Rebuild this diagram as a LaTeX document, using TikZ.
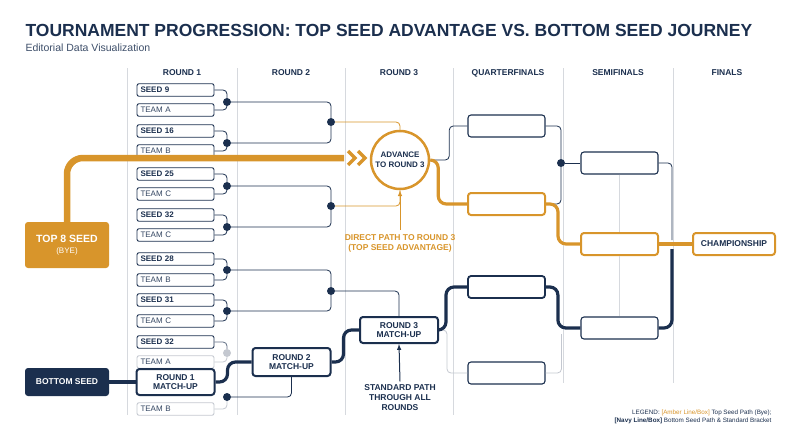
\documentclass[tikz,border=0pt]{standalone}
\usepackage{fontspec}
\setmainfont{Liberation Sans}
\usetikzlibrary{positioning}
\definecolor{navy}{HTML}{1B2F4E}
\definecolor{amber}{HTML}{D8952B}
\definecolor{rule}{HTML}{D6D9DE}
\definecolor{fade}{HTML}{C4C8D0}
\tikzset{
  team/.style={draw=navy,line width=.9pt,rounded corners=2pt,minimum width=77pt,
    minimum height=12.5pt,inner sep=0pt,font=\fontsize{8}{9}\selectfont,text=navy!90,
    text width=70pt,align=left},
  seed/.style={team,font=\fontsize{8}{9}\selectfont\bfseries,text=navy},
  faded/.style={team,draw=fade},
  blank/.style={draw=navy,line width=1.1pt,rounded corners=3pt,minimum width=77pt,minimum height=22pt},
  gold/.style={blank,draw=amber,line width=2pt},
  match/.style={draw=navy,line width=2pt,rounded corners=3pt,fill=white,minimum width=78pt,
    inner sep=1pt,font=\fontsize{8.5}{9.5}\selectfont\bfseries,text=navy,align=center},
  dot/.style={circle,fill=navy,inner sep=0pt,minimum size=8pt},
  link/.style={draw=navy,line width=.8pt,rounded corners=4pt},
  thicknavy/.style={draw=navy,line width=3.2pt,rounded corners=8pt},
  thickgold/.style={draw=amber,line width=3.2pt,rounded corners=8pt},
  head/.style={font=\fontsize{8.5}{10}\selectfont\bfseries,text=navy}
}
\begin{document}
\begin{tikzpicture}[x=1pt,y=-1pt]
\useasboundingbox (0,0) rectangle (800,447);
% title
\node[anchor=west,text=navy,font=\fontsize{17.5}{20}\selectfont\bfseries] (title) at (22,30)
  {TOURNAMENT PROGRESSION: TOP SEED ADVANTAGE VS. BOTTOM SEED JOURNEY};
\node[anchor=west,text=navy!85,font=\fontsize{10.5}{12}\selectfont] (sub) at (22,48) {Editorial Data Visualization};
% columns
\foreach \x/\y in {127/415,237/415,345/415,453/415,563/383,673/383}
  \draw[rule,line width=.8pt] (\x,68) -- (\x,\y);
\foreach \x/\t [count=\i] in {182/ROUND 1,291/ROUND 2,399/ROUND 3,508/QUARTERFINALS,618/SEMIFINALS,727/FINALS}
  \node[head] (h\i) at (\x,73) {\t};
% round 1
\foreach \y/\t/\s [count=\i] in {90/SEED 9/seed,110/TEAM A/team,131/SEED 16/seed,151/TEAM B/team,
  174/SEED 25/seed,194/TEAM C/team,215/SEED 32/seed,235/TEAM C/team,259/SEED 28/seed,
  280/TEAM B/team,300/SEED 31/seed,321/TEAM C/team,342/SEED 32/seed,362/TEAM A/faded,409/TEAM B/faded}
  \node[\s] (r\i) at (175.5,\y) {\t};
\foreach \y [count=\i] in {102,143,186,227,270,311}
  \node[dot] (d\i) at (227,\y) {};
\node[dot,fill=fade] (d7) at (227,353) {};
\node[dot] (d8) at (227,397) {};
\foreach \i in {1,...,6}{
  \pgfmathtruncatemacro\a{2*\i-1}\pgfmathtruncatemacro\b{2*\i}
  \draw[link] (r\a.east) -| (d\i);
  \draw[link] (r\b.east) -| (d\i);}
\draw[link,draw=navy!70] (r13.east) -| (d7);
\draw[link,draw=fade] (r14.east) -| (d7);
\draw[link,draw=fade] (r15.east) -| (d8);
% round 2
\node[dot] (e1) at (331,122) {};
\node[dot] (e2) at (331,206) {};
\node[dot] (e3) at (331,291) {};
\draw[link] (d1) -| (e1); \draw[link] (d2) -| (e1);
\draw[link] (d3) -| (e2); \draw[link] (d4) -| (e2);
\draw[link] (d5) -| (e3); \draw[link] (d6) -| (e3);
% top seed path
\node[draw=amber,line width=2.5pt,fill=white,circle,minimum size=58pt,inner sep=0pt,align=center,
  font=\fontsize{8}{9.5}\selectfont\bfseries,text=navy] (adv) at (400,160) {ADVANCE\\TO ROUND 3};
\draw[link,draw=amber] (e1) -| (adv.north);
\draw[link,draw=amber] (e2) -| (adv.south);
\node[fill=amber,rounded corners=3pt,minimum width=84pt,minimum height=46pt,align=center,text=white,
  font=\fontsize{10.5}{12}\selectfont\bfseries] (top8) at (67,245)
  {TOP 8 SEED\\[-1pt]{\fontsize{8}{9}\selectfont\mdseries (BYE)}};
\coordinate (chev) at (344,158);
\draw[thickgold,line width=6.5pt,rounded corners=16pt] (top8.north) |- (chev);
\foreach \dx in {0,10}
  \draw[amber,line width=3.5pt] ([xshift=\dx pt]chev) ++(4,-7) -- ++(7,7) -- ++(-7,7);
% quarterfinals / semis / final
\node[blank] (qf1) at (506.5,126) {};
\node[gold] (qf2) at (506.5,204) {};
\node[blank,line width=1.8pt] (qf3) at (506.5,287) {};
\node[blank] (qf4) at (506.5,373) {};
\node[blank] (s1) at (619.5,163) {};
\node[gold] (s2) at (619.5,244) {};
\node[blank] (s3) at (619.5,328) {};
\node[match,draw=amber,minimum width=82pt,minimum height=22pt] (champ) at (734,244) {CHAMPIONSHIP};
\draw[rule,line width=.8pt] (s1.south) -- (s2.north) (s2.south) -- (s3.north);
\node[dot] (sd) at (561,163) {};
\draw[link] (adv.east) -- ++(19,0) |- (qf1.west);
\draw[link] (qf1.east) -| (sd);
\draw[link] (qf2.east) -| (sd);
\draw[link] (sd) -- (s1.west);
\draw[link] (s1.east) -| ([xshift=-20pt,yshift=4pt]champ.west);
\draw[thickgold] (adv.east) -- ++(8,0) |- (qf2.west);
\draw[thickgold] (qf2.east) -- ++(12,0) |- (s2.west);
\draw[thickgold,rounded corners=0pt] (s2.east) -- (champ.west);
% bottom seed path
\node[fill=navy,rounded corners=3pt,minimum width=84pt,minimum height=28pt,text=white,
  font=\fontsize{8.5}{10}\selectfont\bfseries] (bottom) at (67,382) {BOTTOM SEED};
\node[match,minimum height=26pt] (m1) at (175.5,382) {ROUND 1\\MATCH-UP};
\node[match,minimum height=28pt] (m2) at (291.5,362) {ROUND 2\\MATCH-UP};
\node[match,minimum height=26pt] (m3) at (399,330) {ROUND 3\\MATCH-UP};
\draw[link] (d8) -| (m2.south);
\draw[thicknavy] (bottom) -- (m1);
\draw[thicknavy] (m1.east) -- ++(12,0) |- (m2.west);
\draw[thicknavy] (m2.east) -- ++(12,0) |- (m3.west);
\draw[link] (e3) -| (m3.north);
\draw[link,draw=fade] (m3.east) -- ++(8,0) |- (qf4.west);
\draw[link,draw=fade] (qf4.east) -| ([xshift=-19pt,yshift=-6pt]s3.west);
\draw[thicknavy] (m3.east) -- ++(7,0) |- (qf3.west);
\draw[thicknavy] (qf3.east) -- ++(12,0) |- (s3.west);
\draw[thicknavy] (s3.east) -| ([xshift=-20pt,yshift=-5pt]champ.west);
\draw[thickgold,rounded corners=0pt,line width=3.5pt] ([xshift=-22pt]champ.west) -- (champ.west);
% annotations
\node[text=amber,align=center,font=\fontsize{8.5}{10}\selectfont\bfseries] (note1) at (400,243)
  {DIRECT PATH TO ROUND 3\\(TOP SEED ADVANTAGE)};
\draw[amber,line width=1pt,-latex] (note1) ++(0,-13) -- (adv.south);
\node[text=navy,align=center,font=\fontsize{8.5}{10}\selectfont\bfseries] (note2) at (400,398)
  {STANDARD PATH\\THROUGH ALL\\ROUNDS};
\draw[navy,line width=1pt,-latex] (note2.north) -- (m3.south);
% legend
\node[anchor=east,align=right,text=navy,font=\fontsize{6.3}{8}\selectfont] (legend) at (775,417)
  {LEGEND: {\color{amber}[Amber Line/Box]} Top Seed Path (Bye);\\
   \textbf{[Navy Line/Box]} Bottom Seed Path \& Standard Bracket};
\end{tikzpicture}
\end{document}
